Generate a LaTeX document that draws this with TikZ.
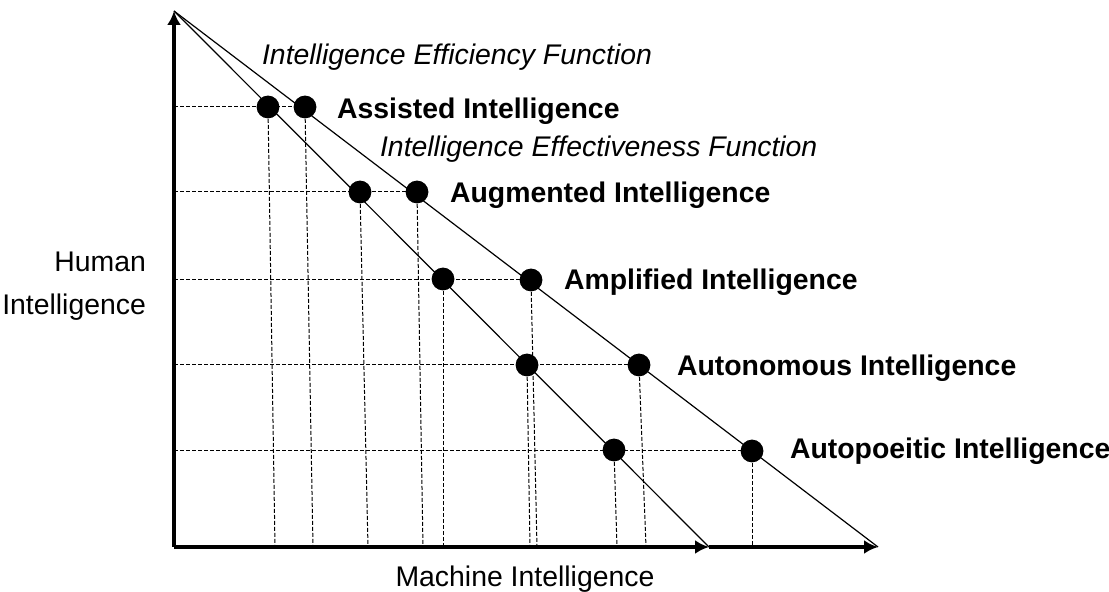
\documentclass[tikz,border=0pt]{standalone}
\usepackage{fontspec}
\setmainfont{Liberation Sans}
\usetikzlibrary{arrows.meta}

\begin{document}
\begin{tikzpicture}[x=0.5pt,y=-0.5pt,
  dot/.style={circle,fill=black,inner sep=0pt,minimum size=11.4pt},
  guide/.style={line width=0.5pt,dash pattern=on 2pt off 1pt},
  axis/.style={line width=2.2pt,-{Latex[length=7pt,width=7pt]}},
  fn/.style={line width=0.6pt},
  stage/.style={anchor=base west,font=\fontsize{14.2}{17}\selectfont\bfseries},
  fnlabel/.style={anchor=base west,font=\fontsize{14.2}{17}\selectfont\itshape}]

\useasboundingbox (0,0) rectangle (1109,592);

% axes
\coordinate (O) at (174,547);
\coordinate (top) at (174,11);
\coordinate (mid) at (709,547);
\coordinate (end) at (878,547);

% points on the two functions
\coordinate (a1) at (268,107);
\coordinate (b1) at (305,107);
\coordinate (a2) at (360,192);
\coordinate (b2) at (417,192);
\coordinate (a3) at (443,279);
\coordinate (b3) at (531,280);
\coordinate (a4) at (527,365);
\coordinate (b4) at (639,365);
\coordinate (a5) at (614,450);
\coordinate (b5) at (752,451);

% where the drop lines hit the x axis
\coordinate (fa1) at (275,547);
\coordinate (fb1) at (313,547);
\coordinate (fa2) at (368,547);
\coordinate (fb2) at (423,547);
\coordinate (fa3) at (443,547);
\coordinate (fb3) at (537,547);
\coordinate (fa4) at (530,547);
\coordinate (fb4) at (646,547);
\coordinate (fa5) at (617,547);
\coordinate (fb5) at (752,547);

% grid
\draw[guide] (O |- b1) -- (b1);
\draw[guide] (O |- b2) -- (b2);
\draw[guide] (O |- b3) -- (b3);
\draw[guide] (O |- b4) -- (b4);
\draw[guide] (O |- b5) -- (b5);
\draw[guide] (a1) -- (fa1);
\draw[guide] (b1) -- (fb1);
\draw[guide] (a2) -- (fa2);
\draw[guide] (b2) -- (fb2);
\draw[guide] (a3) -- (fa3);
\draw[guide] (b3) -- (fb3);
\draw[guide] (a4) -- (fa4);
\draw[guide] (b4) -- (fb4);
\draw[guide] (a5) -- (fa5);
\draw[guide] (b5) -- (fb5);

\draw[fn] (top) -- (mid);
\draw[fn] (top) -- (end);

\draw[axis] (O) -- (top);
\draw[axis] (O) -- (mid);
\draw[axis] (mid) -- (end);

\node[dot] (da1) at (a1) {};
\node[dot] (db1) at (b1) {};
\node[dot] (da2) at (a2) {};
\node[dot] (db2) at (b2) {};
\node[dot] (da3) at (a3) {};
\node[dot] (db3) at (b3) {};
\node[dot] (da4) at (a4) {};
\node[dot] (db4) at (b4) {};
\node[dot] (da5) at (a5) {};
\node[dot] (db5) at (b5) {};

\node[fnlabel] (eff) at (255,65) {Intelligence Efficiency Function};
\node[fnlabel] (effv) at (373,157) {Intelligence Effectiveness Function};

\node[stage] (s1) at (330,119) {Assisted Intelligence};
\node[stage] (s2) at (443,203) {Augmented Intelligence};
\node[stage] (s3) at (557,290) {Amplified Intelligence};
\node[stage] (s4) at (670,376) {Autonomous Intelligence};
\node[stage] (s5) at (783,459) {Autopoeitic Intelligence};

\node[anchor=base east,align=right,font=\fontsize{14.2}{21.5}\selectfont] (hi) at (153,315) {Human\\Intelligence};
\node[anchor=base,font=\fontsize{14.2}{17}\selectfont] (mi) at (525,587) {Machine Intelligence};

\end{tikzpicture}
\end{document}
